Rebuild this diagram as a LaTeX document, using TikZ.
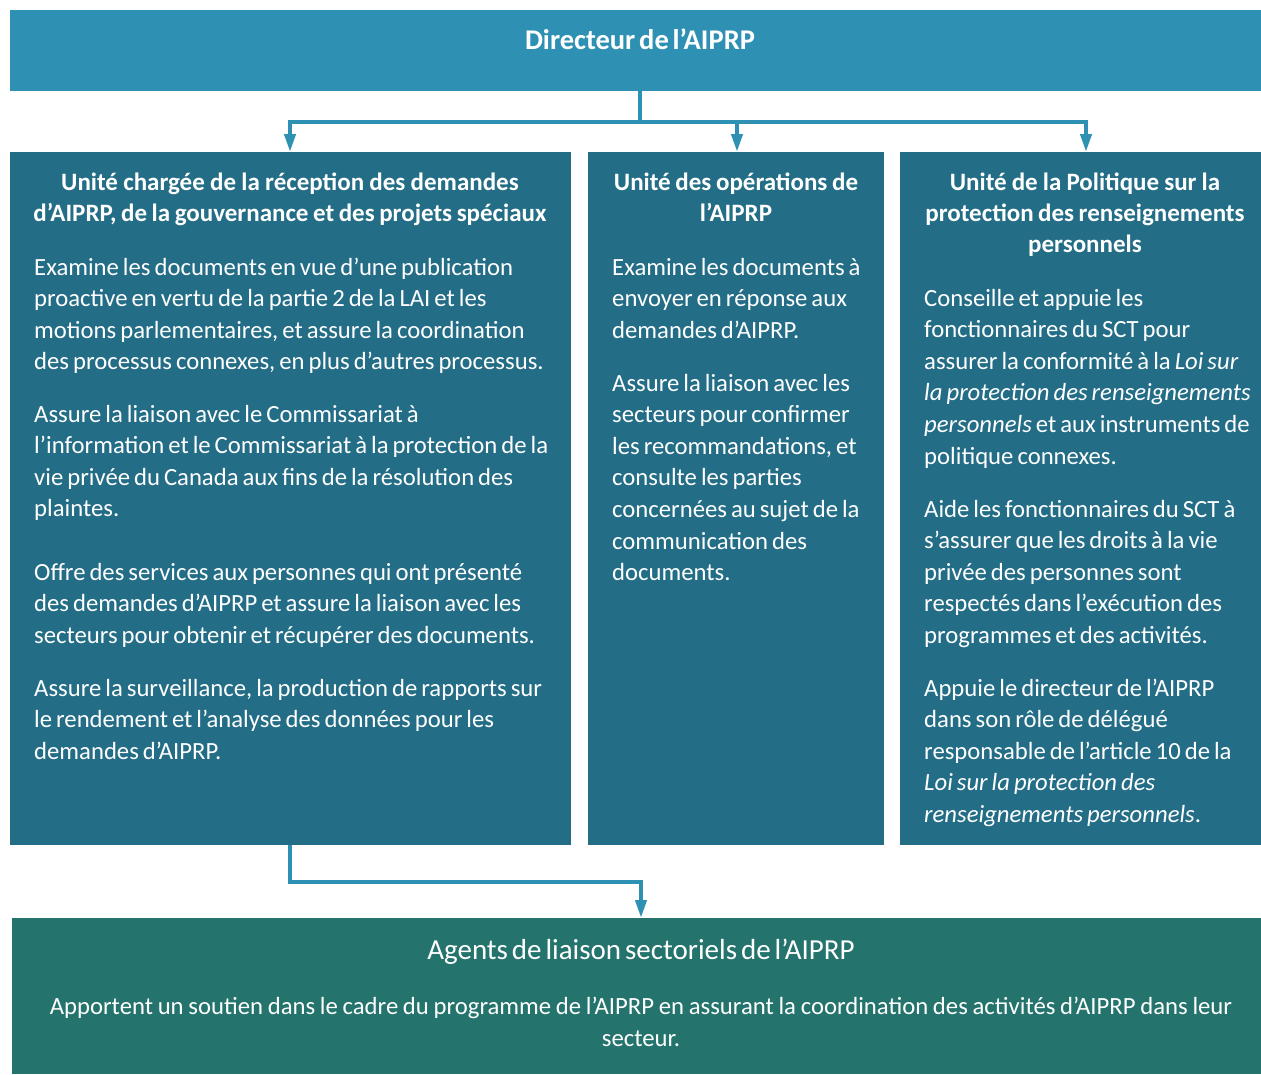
\documentclass[tikz,border=0pt]{standalone}
\usepackage{fontspec}
\setmainfont{Carlito}[WordSpace=0.6]
\usetikzlibrary{arrows.meta}
\definecolor{dirblue}{HTML}{2E91B3}
\definecolor{unitblue}{HTML}{236D86}
\definecolor{agentgreen}{HTML}{24746D}
% narrow interword space inside aligned text blocks
\newcommand\narrowspaces{\spaceskip=0.162em plus 0.05em\relax\xspaceskip=0.2em\relax}
\begin{document}
\begin{tikzpicture}[x=1pt,y=-1pt,
  box/.style={anchor=north west, inner sep=0, outer sep=0, draw=none},
  conn/.style={draw=dirblue, line width=4pt},
  tip/.style={-{Triangle[width=11pt,length=18pt]}},
  head/.style={text=white, inner sep=0, anchor=base, align=center,
    font=\bfseries\fontsize{25}{31}\selectfont, execute at begin node=\narrowspaces},
  body/.style={text=white, inner sep=0, anchor=base west, align=left,
    font=\fontsize{24.7}{31.6}\selectfont, execute at begin node=\narrowspaces},
]
\useasboundingbox (0,0) rectangle (1261,1074);

% boxes
\node[box, fill=dirblue, minimum width=1251pt, minimum height=81pt] (dir) at (10,10) {};
\node[box, fill=unitblue, minimum width=561pt, minimum height=693pt] (u1) at (10,152) {};
\node[box, fill=unitblue, minimum width=296pt, minimum height=693pt] (u2) at (588,152) {};
\node[box, fill=unitblue, minimum width=361pt, minimum height=693pt] (u3) at (900,152) {};
\node[box, fill=agentgreen, minimum width=1249pt, minimum height=156pt] (agents) at (12,918) {};

% connectors
\coordinate (hub) at (640,122);
\coordinate (a1) at (290,122);
\coordinate (a2) at (737,122);
\coordinate (a3) at (1086,122);
\coordinate (bend) at (290,882);
\draw[conn] (dir.south -| hub) -- (hub);
\draw[conn, line cap=rect] (a1) -- (a3);
\draw[conn, tip] (a1) -- (a1 |- u1.north);
\draw[conn, tip] (a2) -- (a2 |- u2.north);
\draw[conn, tip] (a3) -- (a3 |- u3.north);
\draw[conn, tip] (u1.south -| bend) -- (bend) -| (641,918);

% director
\node[text=white, inner sep=0, anchor=base, font=\bfseries\fontsize{28.5}{32}\selectfont] (tdir) at (640,49) {Directeur de l’AIPRP};

% unit 1
\node[head, text width=555pt] (h1) at (290,190) {Unité chargée de la réception des demandes\\d’AIPRP, de la gouvernance et des projets spéciaux};
\node[body, text width=535pt] (p11) at (34,275) {Examine les documents en vue d’une publication\\proactive en vertu de la partie 2 de la LAI et les\\motions parlementaires, et assure la coordination\\des processus connexes, en plus d’autres processus.};
\node[body, text width=535pt] (p12) at (34,422) {Assure la liaison avec le Commissariat à\\l’information et le Commissariat à la protection de la\\vie privée du Canada aux fins de la résolution des\\plaintes.};
\node[body, text width=535pt] (p13) at (34,580) {Offre des services aux personnes qui ont présenté\\des demandes d’AIPRP et assure la liaison avec les\\secteurs pour obtenir et récupérer des documents.};
\node[body, text width=535pt] (p14) at (34,696) {Assure la surveillance, la production de rapports sur\\le rendement et l’analyse des données pour les\\demandes d’AIPRP.};

% unit 2
\node[head, text width=292pt] (h2) at (736,190) {Unité des opérations de\\l’AIPRP};
\node[body, text width=270pt] (p21) at (612,275) {Examine les documents à\\envoyer en réponse aux\\demandes d’AIPRP.};
\node[body, text width=270pt] (p22) at (612,391) {Assure la liaison avec les\\secteurs pour confirmer\\les recommandations, et\\consulte les parties\\concernées au sujet de la\\communication des\\documents.};

% unit 3
\node[head, text width=355pt] (h3) at (1085,190) {Unité de la Politique sur la\\protection des renseignements\\personnels};
\node[body, text width=335pt] (p31) at (924,306) {Conseille et appuie les\\fonctionnaires du SCT pour\\assurer la conformité à la \textit{Loi sur}\\\textit{la protection des renseignements}\\\textit{personnels} et aux instruments de\\politique connexes.};
\node[body, text width=335pt] (p32) at (924,517) {Aide les fonctionnaires du SCT à\\s’assurer que les droits à la vie\\privée des personnes sont\\respectés dans l’exécution des\\programmes et des activités.};
\node[body, text width=335pt] (p33) at (924,696) {Appuie le directeur de l’AIPRP\\dans son rôle de délégué\\responsable de l’article 10 de la\\\textit{Loi sur la protection des}\\\textit{renseignements personnels}.};

% sector liaison officers
\node[text=white, inner sep=0, anchor=base, font=\fontsize{29}{32}\selectfont] (tag) at (641,959) {Agents de liaison sectoriels de l’AIPRP};
\node[body, anchor=base, align=center, text width=1240pt, font=\fontsize{24.7}{32}\selectfont] (pag) at (641,1014) {Apportent un soutien dans le cadre du programme de l’AIPRP en assurant la coordination des activités d’AIPRP dans leur\\secteur.};
\end{tikzpicture}
\end{document}
